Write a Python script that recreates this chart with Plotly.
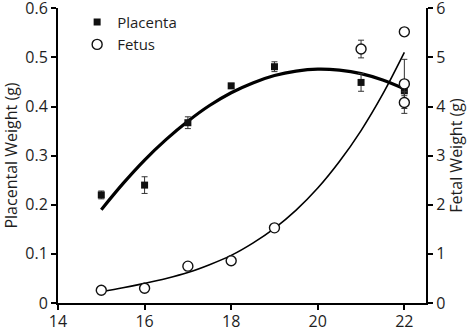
import plotly.graph_objects as go

# Gestational day
placenta_days = [15, 16, 17, 18, 19, 21, 22]
placenta_weight = [0.220, 0.240, 0.367, 0.442, 0.481, 0.449, 0.432]
placenta_err = [0.008, 0.017, 0.012, 0.005, 0.010, 0.018, 0.010]

fetus_days = [15, 16, 17, 18, 19, 21, 22, 22, 22]
fetus_weight = [0.26, 0.30, 0.75, 0.86, 1.53, 5.17, 5.52, 4.46, 4.08]
fetus_err = [0.03, 0.03, 0.03, 0.03, 0.03, 0.18, 0.08, 0.50, 0.22]

# Fitted trend curves
curve_days = [15, 15.5, 16, 16.5, 17, 17.5, 18, 18.5, 19, 19.5, 20, 20.5, 21, 21.5, 22]
placenta_fit = [0.190, 0.243, 0.291, 0.333, 0.370, 0.402, 0.428, 0.448, 0.463,
                0.472, 0.476, 0.474, 0.467, 0.454, 0.436]
fetus_fit = [0.23, 0.31, 0.40, 0.50, 0.62, 0.78, 0.97, 1.22, 1.52, 1.89,
             2.34, 2.88, 3.51, 4.25, 5.10]

x_ticks = [14, 16, 18, 20, 22]
left_ticks = [0, 0.1, 0.2, 0.3, 0.4, 0.5, 0.6]
left_labels = ["0", "0.1", "0.2", "0.3", "0.4", "0.5", "0.6"]
right_ticks = [0, 1, 2, 3, 4, 5, 6]

FONT = "Open Sans"
TXT = "#1e1e1e"

fig = go.Figure()

fig.add_trace(go.Scatter(
    x=curve_days, y=placenta_fit, mode="lines", line=dict(color="black", width=3.2),
    line_shape="spline", showlegend=False, hoverinfo="skip"))
fig.add_trace(go.Scatter(
    x=curve_days, y=fetus_fit, mode="lines", line=dict(color="black", width=1.6),
    line_shape="spline", showlegend=False, hoverinfo="skip", yaxis="y2"))

fig.add_trace(go.Scatter(
    x=placenta_days, y=placenta_weight, mode="markers", name="Placenta",
    marker=dict(symbol="square", size=7, color="#111111"),
    error_y=dict(type="data", array=placenta_err, color="#333333", thickness=1, width=3),
    legendgroup="a"))
fig.add_trace(go.Scatter(
    x=fetus_days, y=fetus_weight, mode="markers", name="Fetus", yaxis="y2",
    marker=dict(symbol="circle", size=10, color="white", line=dict(color="#111111", width=1.4)),
    error_y=dict(type="data", array=fetus_err, color="#333333", thickness=1, width=3),
    legendgroup="b"))

axis_common = dict(showline=True, linecolor="black", linewidth=2, ticks="outside",
                   ticklen=5, tickwidth=2, tickcolor="black", showgrid=False, zeroline=False,
                   ticklabeloverflow="allow",
                   tickfont=dict(family=FONT, size=16, color=TXT))

fig.update_layout(
    width=474, height=332,
    margin=dict(l=58, r=48, t=6, b=29),
    paper_bgcolor="white", plot_bgcolor="white",
    font=dict(family=FONT, size=16, color=TXT),
    xaxis=dict(range=[14, 22.5], tickvals=x_ticks, automargin=False,
               ticklabelstandoff=-2, **axis_common),
    yaxis=dict(range=[0, 0.6005], tickvals=left_ticks, ticktext=left_labels, automargin=False,
               title=dict(text="Placental Weight (g)", font=dict(family=FONT, size=16, color=TXT), standoff=4),
               **axis_common),
    yaxis2=dict(range=[0, 6.005], tickvals=right_ticks, overlaying="y", side="right", automargin=False,
                title=dict(text="Fetal Weight (g)", font=dict(family=FONT, size=16, color=TXT), standoff=4),
                **axis_common),
    legend=dict(x=0.052, y=1.008, xanchor="left", yanchor="top", bgcolor="rgba(0,0,0,0)",
                font=dict(family=FONT, size=15, color=TXT), itemwidth=30,
                traceorder="grouped", tracegroupgap=0),
    showlegend=True,
)

fig.write_html("out.html")
